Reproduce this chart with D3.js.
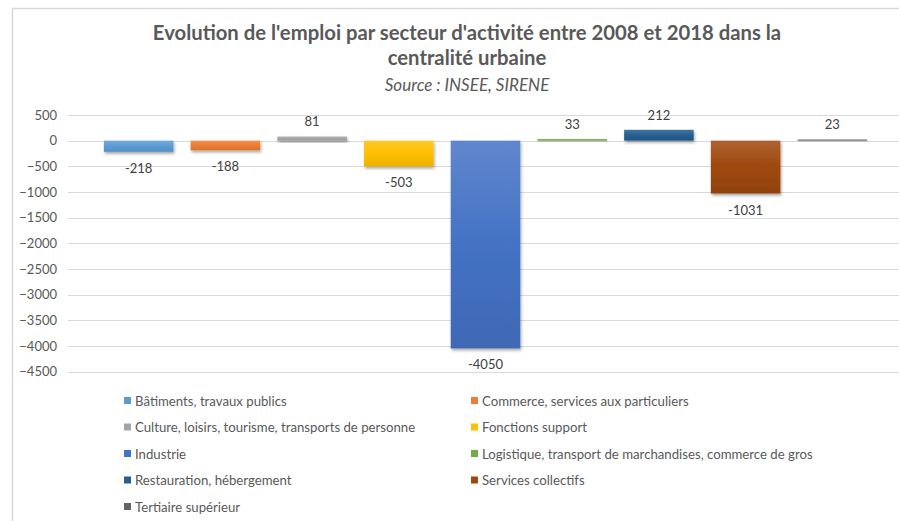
<!DOCTYPE html>
<html><head><meta charset="utf-8">
<script src="https://cdn.jsdelivr.net/npm/d3@7"></script>
<style>
html,body{margin:0;padding:0;background:#fff;}
svg{display:block;}
text{font-family:Lato,"Open Sans",sans-serif;}
</style></head>
<body>
<svg id="c" width="899" height="521"></svg>
<script>
const categories = ["Bâtiments, travaux publics","Commerce, services aux particuliers","Culture, loisirs, tourisme, transports de personne","Fonctions support","Industrie","Logistique, transport de marchandises, commerce de gros","Restauration, hébergement","Services collectifs","Tertiaire supérieur"];
const values = [-218,-188,81,-503,-4050,33,212,-1031,23];
const colors = ["#5b9bd5","#ed7d31","#a5a5a5","#ffc000","#4472c4","#70ad47","#255e91","#9e480e","#636363"];
const yTicks = [500,0,-500,-1000,-1500,-2000,-2500,-3000,-3500,-4000,-4500];
const titleLines = ["Evolution de l'emploi par secteur d'activité entre 2008 et 2018 dans la","centralité urbaine"];
const subtitle = "Source : INSEE, SIRENE";

const svg = d3.select("#c");
const defs = svg.append("defs");
const f = defs.append("filter").attr("id","sh").attr("x","-20%").attr("y","-20%").attr("width","140%").attr("height","160%");
f.append("feDropShadow").attr("dx",1).attr("dy",2).attr("stdDeviation",1.5).attr("flood-color","#000").attr("flood-opacity",0.35);

colors.forEach((c,i)=>{
  const g = defs.append("linearGradient").attr("id","g"+i).attr("x1",0).attr("y1",0).attr("x2",0).attr("y2",1);
  g.append("stop").attr("offset","0%").attr("stop-color",d3.interpolateRgb(c,"#fff")(0.15));
  g.append("stop").attr("offset","50%").attr("stop-color",c);
  g.append("stop").attr("offset","100%").attr("stop-color",d3.interpolateRgb(c,"#000")(0.08));
});

// frame
svg.append("path").attr("d","M12.5,521 V8.5 H899").attr("fill","none").attr("stroke","#d9d9d9").attr("stroke-width",1.5);

const y = d3.scaleLinear().domain([-4500,500]).range([371.5,115]);
const x = d3.scaleBand().domain(categories).range([68,903]).paddingInner(0.198).paddingOuter(0.414);

// grid
svg.append("g").selectAll("line").data(yTicks).join("line")
  .attr("x1",68).attr("x2",899).attr("y1",d=>Math.round(y(d))+0.5).attr("y2",d=>Math.round(y(d))+0.5)
  .attr("stroke","#d9d9d9").attr("stroke-width",1);

// axis labels
const ax = svg.append("g").attr("transform","translate(57,0)")
  .call(d3.axisLeft(y).tickValues(yTicks).tickSize(0).tickPadding(0).tickFormat(d3.format("d")));
ax.select(".domain").remove();
ax.selectAll("text").attr("font-family","Lato,'Open Sans',sans-serif").attr("font-size",13).attr("fill","#595959");

// bars
svg.append("g").selectAll("rect").data(values).join("rect")
  .attr("x",(d,i)=>x(categories[i]))
  .attr("width",x.bandwidth())
  .attr("y",d=>y(Math.max(0,d)))
  .attr("height",d=>Math.abs(y(d)-y(0)))
  .attr("fill",(d,i)=>"url(#g"+i+")")
  .attr("filter","url(#sh)");

// labels
svg.append("g").selectAll("text").data(values).join("text")
  .attr("x",(d,i)=>x(categories[i])+x.bandwidth()/2)
  .attr("y",d=>d<0? y(d)+21 : y(d)-10)
  .attr("text-anchor","middle").attr("font-size",13).attr("fill","#404040")
  .text(d=>d);

// title
svg.append("g").selectAll("text").data(titleLines).join("text")
  .attr("x",467).attr("y",(d,i)=>40+i*25).attr("text-anchor","middle")
  .attr("font-size",20.3).attr("font-weight","bold").attr("fill","#595959").text(d=>d);
svg.append("text").attr("x",467).attr("y",91).attr("text-anchor","middle")
  .attr("font-size",17).attr("font-style","italic").attr("fill","#595959").text(subtitle);

// legend
const lg = svg.append("g").selectAll("g").data(categories).join("g")
  .attr("transform",(d,i)=>`translate(${i%2===0?124:471},${401+Math.floor(i/2)*26.5})`);
lg.append("rect").attr("x",0).attr("y",-4).attr("width",7).attr("height",7).attr("fill",(d,i)=>colors[i]);
lg.append("text").attr("x",11).attr("y",4.5).attr("font-size",13.2).attr("fill","#595959").text(d=>d);
</script>
</body></html>
